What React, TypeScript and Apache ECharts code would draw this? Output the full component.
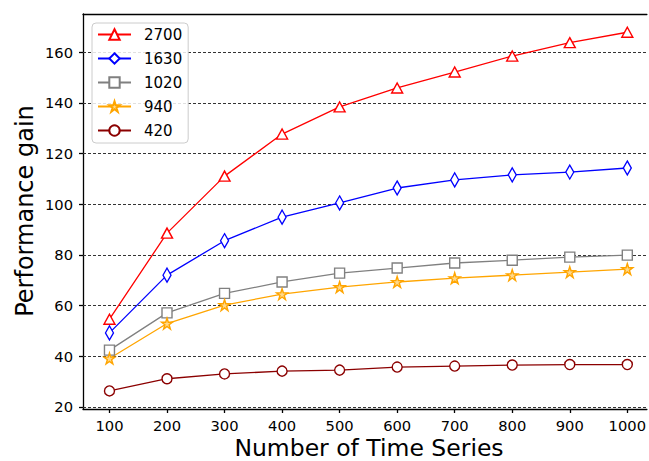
import React, { useEffect, useRef } from 'react';
import * as echarts from 'echarts';

const xValues = [100, 200, 300, 400, 500, 600, 700, 800, 900, 1000];
const s2700 = [54.6, 88.6, 111.1, 127.7, 138.4, 145.9, 152.2, 158.5, 163.8, 167.9];
const s1630 = [49.2, 72.0, 85.6, 94.9, 100.5, 106.4, 109.6, 111.6, 112.7, 114.3];
const s1020 = [42.4, 57.1, 64.8, 69.3, 72.8, 74.8, 76.8, 77.9, 79.1, 79.9];
const s940 = [39.1, 52.9, 60.2, 64.5, 67.3, 69.3, 70.8, 72.0, 73.2, 74.4];
const s420 = [26.3, 31.1, 33.0, 34.1, 34.5, 35.7, 36.1, 36.5, 36.7, 36.7];
const seriesNames = ['2700', '1630', '1020', '940', '420'];
const yTicks = [20, 40, 60, 80, 100, 120, 140, 160];

const STAR =
  'path://M50 0 L61.2 34.5 L97.6 34.5 L68.2 55.9 L79.4 90.5 L50 69.1 L20.6 90.5 L31.8 55.9 L2.4 34.5 L38.8 34.5 Z';
const FONT = '"DejaVu Sans", Verdana, sans-serif';

export default function App() {
  const ref = useRef<HTMLDivElement>(null);
  useEffect(() => {
    if (!ref.current) return;
    const chart = echarts.init(ref.current, null, { renderer: 'svg' });
    const mk = (
      name: string,
      data: number[],
      color: string,
      symbol: string,
      size: number | number[],
      fill = '#fff'
    ): any => ({
      type: 'line',
      name,
      data: xValues.map((x, i) => [x, data[i]]),
      symbol,
      symbolSize: size,
      showSymbol: true,
      lineStyle: { color, width: 1.3 },
      itemStyle: { color: fill, borderColor: color, borderWidth: 1.4 },
      emphasis: { disabled: true },
    });
    const series: any[] = [
      mk(seriesNames[0], s2700, '#ff0000', 'triangle', [11, 10]),
      mk(seriesNames[1], s1630, '#0000ff', 'diamond', [8, 14]),
      mk(seriesNames[2], s1020, '#808080', 'rect', [10, 10]),
      mk(seriesNames[3], s940, '#ffa500', STAR, [11, 11], '#ffd98c'),
      mk(seriesNames[4], s420, '#8b0000', 'circle', [10, 10]),
    ];
    series[0].markLine = {
      silent: true,
      z: 1,
      symbol: ['none', 'none'],
      label: { show: false },
      lineStyle: { type: [3, 2], color: '#333', width: 1 },
      data: yTicks.map((v) => ({ yAxis: v })),
    };
    const axisLineStyle = { color: '#000', width: 1.3 };
    chart.setOption({
      animation: false,
      backgroundColor: '#fff',
      grid: { left: 83, right: 0, top: 14, bottom: 52, containLabel: false },
      legend: {
        data: seriesNames,
        orient: 'vertical',
        left: 92,
        top: 23,
        itemWidth: 33,
        itemHeight: 13,
        itemGap: 9,
        padding: [4, 6, 5, 5],
        borderColor: '#cccccc',
        borderWidth: 1,
        borderRadius: 4,
        backgroundColor: 'rgba(255,255,255,0.85)',
        textStyle: { color: '#000', fontSize: 15, fontFamily: FONT, padding: [0, 0, 0, 8] },
      },
      xAxis: [
        {
          type: 'value',
          min: 54,
          max: 1034,
          position: 'bottom',
          axisLine: { show: true, onZero: false, lineStyle: axisLineStyle },
          axisTick: { show: true, length: 4, lineStyle: axisLineStyle, customValues: xValues },
          axisLabel: {
            customValues: xValues,
            formatter: (v: number) => String(v),
            color: '#000',
            fontSize: 14.7,
            fontFamily: FONT,
            margin: 9,
          },
          splitLine: { show: false },
        },
        {
          type: 'value',
          min: 54,
          max: 1034,
          position: 'top',
          axisLine: { show: true, onZero: false, lineStyle: axisLineStyle },
          axisTick: { show: false },
          axisLabel: { show: false },
          splitLine: { show: false },
        },
      ],
      yAxis: {
        type: 'value',
        min: 19.15,
        max: 175.1,
        axisLine: { show: true, onZero: false, lineStyle: axisLineStyle },
        axisTick: { show: true, length: 4, lineStyle: axisLineStyle, customValues: yTicks },
        axisLabel: {
          customValues: yTicks,
          formatter: (v: number) => String(v),
          color: '#000',
          fontSize: 14.7,
          fontFamily: FONT,
          margin: 10,
        },
        splitLine: { show: false },
      },
      graphic: [
        {
          type: 'text',
          x: 25,
          y: 211,
          rotation: Math.PI / 2,
          style: {
            text: 'Performance gain',
            font: `24px ${FONT}`,
            fill: '#000',
            align: 'center',
            verticalAlign: 'middle',
          },
        },
        {
          type: 'text',
          x: 369,
          y: 460,
          style: {
            text: 'Number of Time Series',
            font: `23.5px ${FONT}`,
            fill: '#000',
            align: 'center',
            verticalAlign: 'bottom',
          },
        },
      ],
      series,
    });
    return () => chart.dispose();
  }, []);
  return (
    <div
      ref={ref}
      style={{ position: 'fixed', left: 0, top: 0, width: 649, height: 461, background: '#fff' }}
    />
  );
}
